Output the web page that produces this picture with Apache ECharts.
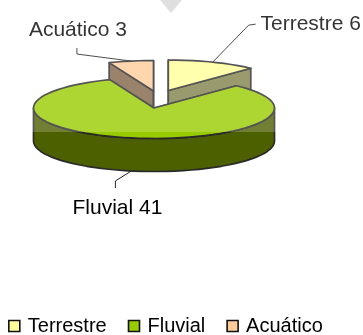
<!DOCTYPE html>
<html>
<head>
<meta charset="utf-8">
<style>
  html, body { margin: 0; padding: 0; background: #fff; }
  #chart { width: 363px; height: 335px; }
</style>
</head>
<body>
<div id="chart"></div>
<script src="https://cdn.jsdelivr.net/npm/echarts@6/dist/echarts.min.js"></script>
<script>
const categories = ["Terrestre", "Fluvial", "Acuático"];
const values = [6, 41, 3];
const colors = ["#ffff99", "#99cc00", "#ffcc99"];
const sideColors = ["#81814c", "#4d6000", "#816347"];

// posicion de cada porcion (esta separada del centro) y de su etiqueta
const layouts = [
  { cx: 168.3, cy: 90.5, label: [98, -38], leader: [[36, -37], [43, -38]] },
  { cx: 154, cy: 108, label: [-14, 37.5], leader: [[-16, 10], [-16, 17]], front: true },
  { cx: 153.5, cy: 91, label: [-53, -31], leader: [[-54, -7], [-54, -13]] }
];
const rx = 120.5;
const ry = 30.5;
const depth = 33;
const total = values.reduce((a, b) => a + b, 0);

const pointAt = (l, deg, dy) => {
  const r = (deg * Math.PI) / 180;
  return [l.cx + rx * Math.sin(r), l.cy - ry * Math.cos(r) + (dy || 0)];
};

const arcPoints = (l, from, to, dy) => {
  const pts = [];
  const steps = Math.max(2, Math.ceil((to - from) / 4));
  for (let i = 0; i <= steps; i++) {
    pts.push(pointAt(l, from + ((to - from) * i) / steps, dy));
  }
  return pts;
};

const edgeStyle = { stroke: "#2a2a2a", lineWidth: 1.7, lineJoin: "round" };

const renderSlice = (i) => (params, api) => {
  const l = layouts[i];
  const start = (api.value(0) / total) * 360;
  const end = start + (api.value(1) / total) * 360;
  const mid = (start + end) / 2;
  const apex = [l.cx, l.cy];
  const apexLow = [l.cx, l.cy + depth];
  const children = [];
  const poly = (points, fill) =>
    children.push({ type: "polygon", shape: { points }, style: { ...edgeStyle, fill } });

  // caras radiales, canto exterior y tapa, de atras hacia adelante
  [start, end].forEach((deg) => {
    const tip = pointAt(l, deg);
    poly([apex, tip, pointAt(l, deg, depth), apexLow], sideColors[i]);
  });
  const a = Math.max(start, 90);
  const b = Math.min(end, 270);
  if (b > a) {
    poly(arcPoints(l, a, b).concat(arcPoints(l, a, b, depth).reverse()), sideColors[i]);
  }
  poly([apex].concat(arcPoints(l, start, end)), colors[i]);

  // linea guia y etiqueta
  const anchor = pointAt(l, mid, l.front ? depth : 0);
  children.push({
    type: "polyline",
    shape: { points: [anchor].concat(l.leader.map((p) => [anchor[0] + p[0], anchor[1] + p[1]])) },
    style: { stroke: "#222", lineWidth: 1, fill: null }
  });
  children.push({
    type: "text",
    style: {
      x: anchor[0] + l.label[0],
      y: anchor[1] + l.label[1],
      text: categories[i] + " " + api.value(1),
      fill: "#000",
      font: '21px "Liberation Sans"',
      align: "center",
      verticalAlign: "middle"
    }
  });
  return { type: "group", children };
};

let acc = 0;
const starts = values.map((v) => {
  const s = acc;
  acc += v;
  return s;
});

const chart = echarts.init(document.getElementById("chart"), null, { renderer: "canvas" });

chart.setOption({
  animation: false,
  backgroundColor: "#fff",
  legend: {
    left: 3,
    top: 311,
    selectedMode: false,
    icon: "rect",
    itemWidth: 11,
    itemHeight: 11,
    itemGap: 21,
    data: categories,
    itemStyle: { borderColor: "#111", borderWidth: 1.6 },
    textStyle: { fontFamily: "Liberation Sans", fontSize: 20, color: "#000", padding: [0, 0, 0, 3] }
  },
  // marca de agua de la imagen original: velo blanco arriba y flecha gris
  graphic: [
    {
      type: "rect",
      z: 100,
      shape: { x: 0, y: 0, width: 363, height: 132 },
      style: { fill: "rgba(255,255,255,0.2)" }
    },
    {
      type: "polygon",
      z: 101,
      shape: { points: [[160, 0], [182, 0], [171, 13]] },
      style: { fill: "#dfdfdf" }
    }
  ],
  series: [0, 2, 1].map((i) => ({
    type: "custom",
    name: categories[i],
    coordinateSystem: "none",
    itemStyle: { color: colors[i] },
    silent: true,
    data: [[starts[i], values[i]]],
    renderItem: renderSlice(i)
  }))
});
</script>
</body>
</html>
